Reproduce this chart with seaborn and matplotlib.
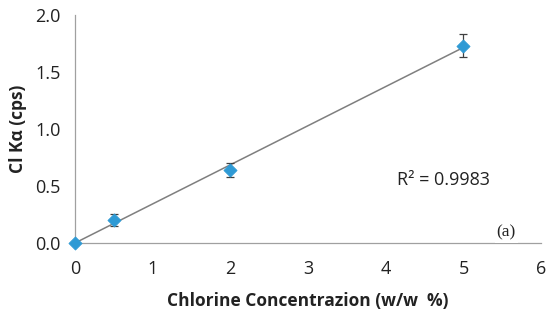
import numpy as np
import pandas as pd
import matplotlib
matplotlib.use("Agg")
import matplotlib.pyplot as plt
import seaborn as sns

conc = [0, 0.5, 2, 5]
signal = [0.0, 0.20, 0.64, 1.73]
err = [0.0, 0.055, 0.065, 0.10]
x_ticks = [0, 1, 2, 3, 4, 5, 6]
y_ticks = [0.0, 0.5, 1.0, 1.5, 2.0]

sns.set_style("white")
plt.rcParams['font.family'] = ['Open Sans', 'DejaVu Sans']

df = pd.DataFrame({"conc": conc, "signal": signal})

fig = plt.figure(figsize=(5.5, 3.24), dpi=100)
ax = fig.add_axes([0.136, 0.25, 0.848, 0.704])

# regression line
sns.regplot(data=df, x="conc", y="signal", ci=None, scatter=False, ax=ax,
            truncate=True, line_kws=dict(color="#7f7f7f", lw=1.1, zorder=2))
ax.errorbar(conc, signal, yerr=err, fmt="none", ecolor="#404040", elinewidth=0.9,
            capsize=3, capthick=0.9, zorder=3)
sc = sns.scatterplot(data=df, x="conc", y="signal", marker="D", s=45, color="#2E9AD5",
                     edgecolor="#2E9AD5", ax=ax, zorder=4)
for coll in ax.collections:
    coll.set_clip_on(False)

ax.text(4.14, 0.55, "R² = 0.9983", fontsize=13, color="#222222", va="center")

ax.set_xlim(0, 6)
ax.set_ylim(0, 2.0)
ax.set_xticks(x_ticks)
ax.set_yticks(y_ticks)
ax.set_xticklabels([str(t) for t in x_ticks])
ax.set_yticklabels([f"{t:.1f}" for t in y_ticks])
ax.tick_params(axis="both", labelsize=13, colors="#222222", length=4, width=0.8,
               color="#a0a0a0", direction="out")
ax.tick_params(axis="x", pad=8)
ax.tick_params(axis="y", pad=6)

for s in ["top", "right"]:
    ax.spines[s].set_visible(False)
for s in ["left", "bottom"]:
    ax.spines[s].set_color("#a0a0a0")
    ax.spines[s].set_linewidth(0.9)

ax.set_xlabel("Chlorine Concentrazion (w/w  %)", fontsize=12.5, fontweight="bold",
              color="#222222", labelpad=10)
ax.set_ylabel("Cl Kα (cps)", fontsize=12.5, fontweight="bold", color="#222222", labelpad=6)

ax.text(5.55, 0.02, "(a)", fontsize=12.5, family=["Liberation Serif", "DejaVu Serif"],
        color="#222222", ha="center", va="bottom",
        bbox=dict(facecolor="white", edgecolor="none", pad=1.5), zorder=5)

fig.savefig("out.png", dpi=100)
